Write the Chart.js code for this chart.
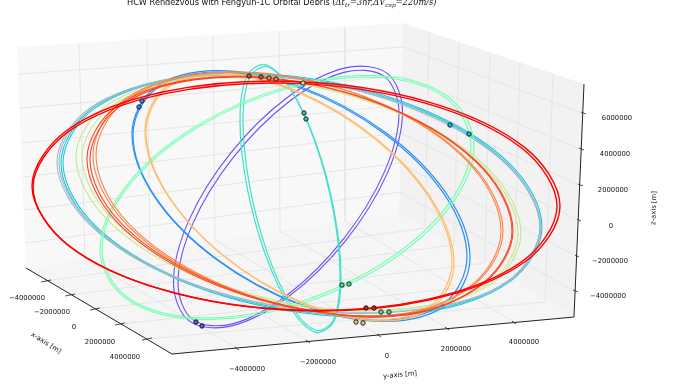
<!DOCTYPE html>
<html>
<head>
<meta charset="utf-8">
<script src="https://cdn.jsdelivr.net/npm/chart.js@4/dist/chart.umd.min.js"></script>
<style>
html, body { margin: 0; padding: 0; background: #fff; }
canvas { display: block; }
</style>
</head>
<body>
<canvas id="chart" width="684" height="389"></canvas>
<script>
// all lists are [h, v], in the plane of the 3d view
const paneLeft = [[17,47],[403,23],[399,213],[26,268],[17,47]];
const paneRight = [[403,23],[584,84],[574,317],[399,213],[403,23]];
const paneFloor = [[26,268],[399,213],[574,317],[172,354],[26,268]];

const gridLines = [
    [[79,43],[85,259],[237,348]],
    [[147,39],[150,250],[308,341]],
    [[213,35],[215,240],[379,335]],
    [[279,31],[280,231],[447,328]],
    [[345,27],[345,221],[514,322]],
    [[19,74],[403,47],[582,113]],
    [[20,108],[402,76],[580,149]],
    [[22,143],[402,105],[579,185]],
    [[23,177],[401,133],[578,220]],
    [[24,210],[400,163],[576,256]],
    [[26,243],[400,192],[574,291]],
    [[45,281],[425,228],[429,33]],
    [[70,295],[454,245],[459,43]],
    [[95,309],[485,263],[490,53]],
    [[120,324],[514,282],[520,63]],
    [[147,339],[545,302],[553,74]]
];
const axisLines = [
    [[26,268],[172,354]],
    [[172,354],[574,317]],
    [[584,84],[574,317]]
];
const tickMarks = [
    [[41,282],[51,280]], [[65,296],[75,294]], [[90,310],[100,308]], [[115,325],[125,323]], [[142,340],[152,338]],
    [[235,347],[239,350]], [[306,340],[310,343]], [[377,334],[381,337]], [[445,327],[449,330]], [[512,321],[516,324]],
    [[581,112],[586,114]], [[579,148],[584,150]], [[578,184],[583,186]], [[577,219],[581,221]], [[575,255],[579,257]], [[573,290],[578,292]]
];

const purpleA = [[402.5,112],[387.2,73.4],[345.3,67.9],[288,97],[230.8,152.9],[188.8,220.6],[173.5,282],[188.8,320.6],[230.8,326.1],[288,297],[345.3,241.1],[387.2,173.4],[402.5,112],[387.2,73.4]];
const purpleB = [[399,113],[384.2,76.4],[343.8,72.4],[288.5,102],[233.3,157.4],[192.8,223.6],[178,283],[192.8,319.6],[233.3,323.6],[288.5,294],[343.8,238.6],[384.2,172.4],[399,113],[384.2,76.4]];
const blueA = [[470,258],[447.4,195.2],[385.5,132.6],[301,87],[216.5,70.6],[154.6,87.8],[132,134],[154.6,196.8],[216.5,259.4],[301,305],[385.5,321.4],[447.4,304.2],[470,258],[447.4,195.2]];
const blueB = [[467,257],[444.6,194.8],[383.5,133],[300,88],[216.5,72],[155.4,89.2],[133,135],[155.4,197.2],[216.5,259],[300,304],[383.5,320],[444.6,302.8],[467,257],[444.6,194.8]];
const greyA = [[541,228],[508.6,165.6],[420,111],[299,79],[178,78],[89.4,108.4],[57,162],[89.4,224.4],[178,279],[299,309.5],[420,309.5],[508.6,281.6],[541,228],[508.6,165.6]];
const greyB = [[540,228],[507.8,165.9],[419.8,111.5],[299.5,79.5],[179.3,78.5],[91.2,108.6],[59,162],[91.2,224.2],[179.3,278.5],[299.5,309],[419.8,309],[507.8,281.4],[540,228],[507.8,165.9]];
const cyanA = [[542,227],[509.8,163.9],[421.8,109.1],[301.5,77.3],[181.3,77.1],[93.2,107.5],[61,163],[93.2,226.2],[181.3,280.9],[301.5,312.7],[421.8,312.9],[509.8,281.6],[542,227],[509.8,163.9]];
const cyanB = [[540,227],[508,164.5],[420.8,110.1],[301.5,78.5],[182.3,78.1],[95,108.1],[63,163],[95,225.5],[182.3,279.9],[301.5,311.5],[420.8,311.9],[508,281],[540,227],[508,164.5]];
const turquoiseA = [[341,276.5],[334.2,211.3],[315.8,142.7],[290.5,89],[265.3,64.7],[246.8,76.3],[240,120.5],[246.8,185.8],[265.3,254.3],[290.5,308],[315.8,332.3],[334.2,320.8],[341,276.5],[334.2,211.3]];
const turquoiseB = [[340,276],[333.5,211.9],[315.8,144.2],[291.5,91],[267.3,66.7],[249.5,77.7],[243,121],[249.5,185.1],[267.3,252.9],[291.5,306],[315.8,330.3],[333.5,319.9],[340,276],[333.5,211.9]];
const aquaA = [[474,145.5],[448.9,97.3],[380.5,75.8],[287,87],[193.5,127.8],[125.1,187.3],[100,249.5],[125.1,297.8],[193.5,319.2],[287,308],[380.5,267.2],[448.9,207.8],[474,145.5],[448.9,97.3]];
const aquaB = [[471,145.5],[446.3,98.3],[378.8,77.5],[286.5,89],[194.3,129.5],[126.7,188.3],[102,249.5],[126.7,296.8],[194.3,317.5],[286.5,306],[378.8,265.5],[446.3,206.8],[471,145.5],[446.3,98.3]];
const greenA = [[521,233],[491.2,171.9],[409.8,117],[298.5,83],[187.3,79],[105.8,106.1],[76,157],[105.8,218.1],[187.3,273],[298.5,306],[409.8,308.5],[491.2,283.9],[521,233],[491.2,171.9]];
const greenB = [[518,233],[488.8,172.4],[409,117.9],[300,84],[191,79.9],[111.2,106.6],[82,157],[111.2,217.6],[191,272.1],[300,305],[409,308],[488.8,283.4],[518,233],[488.8,172.4]];
const lightOrangeA = [[454,263],[433.3,201.7],[376.8,139.1],[299.5,92],[222.3,73.1],[165.7,87.3],[145,131],[165.7,192.3],[222.3,254.9],[299.5,302],[376.8,320.9],[433.3,306.7],[454,263],[433.3,201.7]];
const lightOrangeB = [[452,262],[431.5,201.3],[375.5,139.4],[299,93],[222.5,74.4],[166.5,88.7],[146,132],[166.5,192.7],[222.5,254.6],[299,301],[375.5,319.6],[431.5,305.3],[452,262],[431.5,201.3]];
const orangeA = [[503,231],[475.5,168.4],[400.5,112.4],[298,78],[195.5,74.4],[120.5,102.6],[93,155],[120.5,217.6],[195.5,273.6],[298,309],[400.5,314],[475.5,283.4],[503,231],[475.5,168.4]];
const orangeB = [[501,231],[473.9,168.7],[399.8,112.8],[298.5,78.5],[197.3,74.8],[123.1,102.9],[96,155],[123.1,217.4],[197.3,273.2],[298.5,308.5],[399.8,315],[473.9,283.1],[501,231],[473.9,168.7]];
const redOrangeA = [[513,231],[484.5,169.7],[406.5,115.1],[300,82],[193.5,79.1],[115.5,107.3],[87,159],[115.5,220.3],[193.5,274.9],[300,309],[406.5,314],[484.5,282.7],[513,231],[484.5,169.7]];
const redOrangeB = [[512,231],[483.7,170],[406.5,115.6],[301,82.5],[195.5,79.6],[118.3,107.6],[90,159],[118.3,220.1],[195.5,274.4],[301,308.5],[406.5,315],[483.7,282.5],[512,231],[483.7,170]];
const redA = [[560,206],[524.6,147.4],[428,101.8],[296,81.5],[164,91.8],[67.4,130],[32,186],[67.4,244.6],[164,290.2],[296,310.5],[428,300.2],[524.6,262],[560,206],[524.6,147.4]];
const redB = [[557,206.2],[521.9,148.3],[426,103.4],[295,83.4],[164,93.9],[68.1,131.9],[33,187.2],[68.1,245.2],[164,290],[295,310],[426,299.6],[521.9,261.6],[557,206.2],[521.9,148.3]];

const purplePts = [[196,322],[202,326]];
const bluePts = [[142,101],[139,107]];
const cyanPts = [[450,125],[469,134]];
const turquoisePts = [[304,113],[306,119]];
const aquaPts = [[342,285],[349,284]];
const tealPts = [[381,312],[389,312]];
const greenPts = [[303,83]];
const lightOrangePts = [[356,322],[363,323]];
const orangePts = [[269,78],[276,79]];
const redOrangePts = [[249,76],[261,77]];
const redPts = [[366,308],[374,308]];

const xTickLabels = ['\u22124000000','\u22122000000','0','2000000','4000000'];
const xTickSpots = [[27,298],[52,312],[74,327],[100,342],[125,357]];
const yTickLabels = ['\u22124000000','\u22122000000','0','2000000','4000000'];
const yTickSpots = [[247,369],[318,362],[387,356],[456,349],[524,342]];
const zTickLabels = ['6000000','4000000','2000000','0','\u22122000000','\u22124000000'];
const zTickSpots = [[617,118],[615,154],[613,190],[611,226],[610,261],[608,296]];

let datasets = [];

// orbits wrap round: first and last piece only exist to give the curve its
// tangents at the seam, so they stay invisible
function addOrbit(points, color, width) {
    const wrapped = [points[points.length - 3]].concat(points);
    const lastIndex = wrapped.length - 1;
    datasets.push({
        data: wrapped, showLine: true, borderColor: color, borderWidth: width, pointRadius: 0, fill: false, tension: 0.35,
        segment: {
            borderColor: ctx => (ctx.p0DataIndex === 0 || ctx.p1DataIndex === lastIndex) ? 'transparent' : undefined
        }
    });
}
function addStraight(points, color, width) {
    datasets.push({ data: points, showLine: true, borderColor: color, borderWidth: width, pointRadius: 0, fill: false, tension: 0 });
}
function addPane(points, color) {
    datasets.push({ data: points, showLine: true, borderWidth: 0, borderColor: color, backgroundColor: color, pointRadius: 0, fill: 'shape', tension: 0 });
}
function addDots(points, color) {
    datasets.push({ data: points, showLine: false, pointRadius: 2.2, pointBorderWidth: 0.9, pointBorderColor: '#111', pointBackgroundColor: color });
}

addPane(paneLeft, '#f8f8f8');
addPane(paneRight, '#f2f2f2');
addPane(paneFloor, '#f5f5f5');
gridLines.forEach(l => addStraight(l, '#e6e6e6', 1));
axisLines.forEach(l => addStraight(l, '#222', 1));
tickMarks.forEach(l => addStraight(l, '#222', 0.8));

addOrbit(purpleA, '#6a50f2', 1.1); addOrbit(purpleB, '#6a50f2', 1.1);
addOrbit(blueA, '#2b8ff5', 1.2); addOrbit(blueB, '#2b8ff5', 1.2);
addOrbit(cyanA, '#18c0e8', 1.1); addOrbit(cyanB, '#20c8d8', 1.1);
addOrbit(greyA, '#9dbcc8', 1.1); addOrbit(greyB, '#9dbcc8', 1.1);
addOrbit(turquoiseA, '#40e0cc', 1.2); addOrbit(turquoiseB, '#40e0cc', 1.2);
addOrbit(aquaA, '#78ffb4', 1.2); addOrbit(aquaB, '#78ffb4', 1.2);
addOrbit(greenA, '#c4ea8e', 1.1); addOrbit(greenB, '#c4ea8e', 1.1);
addOrbit(lightOrangeA, '#ffbb6c', 1.2); addOrbit(lightOrangeB, '#ffbb6c', 1.2);
addOrbit(orangeA, '#ff8444', 1.1); addOrbit(orangeB, '#ff8444', 1.1);
addOrbit(redOrangeA, '#ff4526', 1.1); addOrbit(redOrangeB, '#ff4526', 1.1);
addOrbit(redA, '#ff0000', 1.4); addOrbit(redB, '#ff0000', 1.4);

addDots(purplePts, '#6a50f2');
addDots(bluePts, '#2b8ff5');
addDots(cyanPts, '#18c0e8');
addDots(turquoisePts, '#40c0b0');
addDots(aquaPts, '#60d8a8');
addDots(tealPts, '#60d8a8');
addDots(greenPts, '#c4ea8e');
addDots(lightOrangePts, '#ffbb6c');
addDots(orangePts, '#ff8444');
addDots(redOrangePts, '#e0502a');
addDots(redPts, '#d02020');

// chart.js paints dataset 0 last, the picture needs the reverse
datasets.reverse();

const textPlugin = {
    id: 'viewText',
    afterDraw(chart) {
        const ctx = chart.ctx;
        const sx = chart.scales.x;
        const sy = chart.scales.y;
        function put(text, spot, font, angle) {
            ctx.save();
            ctx.translate(sx.getPixelForValue(spot[0]), sy.getPixelForValue(spot[1]));
            ctx.rotate((angle || 0) * Math.PI / 180);
            ctx.font = font;
            ctx.fillStyle = '#111';
            ctx.textAlign = 'center';
            ctx.textBaseline = 'middle';
            ctx.fillText(text, 0, 0);
            ctx.restore();
        }
        const tickFont = '6.8px "DejaVu Sans"';
        xTickLabels.forEach((t, i) => put(t, xTickSpots[i], tickFont));
        yTickLabels.forEach((t, i) => put(t, yTickSpots[i], tickFont));
        zTickLabels.forEach((t, i) => put(t, zTickSpots[i], tickFont));
        put('x-axis [m]', [46,343], tickFont, 32);
        put('y-axis [m]', [400,375], tickFont, -5);
        put('z-axis [m]', [654,208], tickFont, -88);

        // title with its math part set piece by piece
        const plain = '8.2px "DejaVu Sans"';
        const math = 'italic 8.3px "DejaVu Serif"';
        const sub = 'italic 5.8px "DejaVu Serif"';
        const pieces = [
            ['HCW Rendezvous with Fengyun-1C Orbital Debris (', plain, 0],
            ['\u0394t', math, 0], ['tr', sub, 1.5],
            ['=3hr,\u0394V', math, 0], ['cap', sub, 1.5],
            ['=220m/s)', math, 0]
        ];
        ctx.save();
        ctx.textBaseline = 'alphabetic';
        ctx.fillStyle = '#111';
        ctx.textAlign = 'left';
        let penX = sx.getPixelForValue(127);
        const penY = sy.getPixelForValue(5);
        pieces.forEach(p => {
            ctx.font = p[1];
            ctx.fillText(p[0], penX, penY + p[2]);
            penX += ctx.measureText(p[0]).width;
        });
        ctx.restore();
    }
};

new Chart(document.getElementById('chart'), {
    type: 'scatter',
    data: { datasets: datasets },
    options: {
        responsive: false,
        animation: false,
        layout: { padding: 0, autoPadding: false },
        plugins: { legend: { display: false }, tooltip: { enabled: false } },
        scales: {
            x: { type: 'linear', display: false, min: 0, max: 684 },
            y: { type: 'linear', display: false, min: 0, max: 389, reverse: true }
        }
    },
    plugins: [textPlugin]
});
</script>
</body>
</html>
